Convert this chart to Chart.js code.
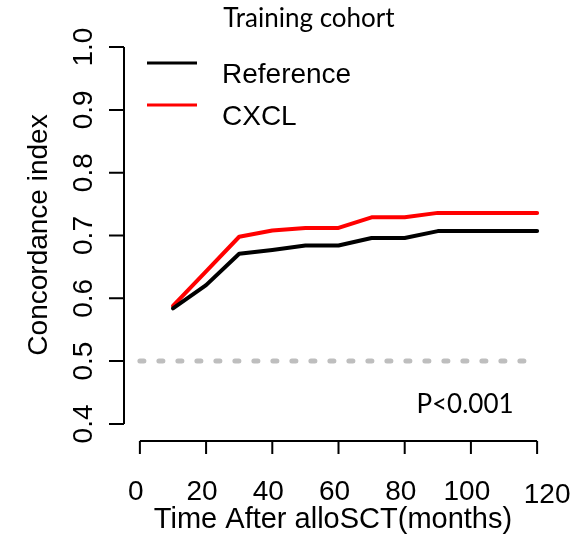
<!DOCTYPE html>
<html>
<head>
<meta charset="utf-8">
<script src="https://cdn.jsdelivr.net/npm/chart.js@4.4.0/dist/chart.umd.min.js"></script>
<style>
  html, body { margin: 0; padding: 0; background: #fff; }
  canvas { display: block; }
</style>
</head>
<body>
<canvas id="chart" width="578" height="542"></canvas>
<script>
// C-index over time after alloSCT, training cohort
const months = [10, 20, 30, 40, 50, 60, 70, 80, 90, 100, 110, 120];
const referenceIdx = [0.584, 0.621, 0.671, 0.677, 0.684, 0.684, 0.696, 0.696, 0.707, 0.707, 0.707, 0.707];
const cxclIdx = [0.588, 0.643, 0.698, 0.708, 0.712, 0.712, 0.729, 0.729, 0.736, 0.736, 0.736, 0.736];
const chanceX = [0, 120];
const chanceY = [0.5, 0.5];
const xTicks = [0, 20, 40, 60, 80, 100, 120];
const yTicks = [0.4, 0.5, 0.6, 0.7, 0.8, 0.9, 1.0];
const chartTitle = 'Training cohort';
const xTitle = 'Time After alloSCT(months)';
const yTitle = 'Concordance index';
const pText = 'P<0.001';

const ARIAL = '"Liberation Sans", Arial, sans-serif';
const CALIBRI = 'Lato, "Open Sans", sans-serif';

function pts(xs, ys) {
  return xs.map((x, i) => ({ x: x, y: ys[i] }));
}

// R style axes, legend and text
const rStyle = {
  id: 'rStyle',
  afterDraw(chart) {
    const ctx = chart.ctx;
    const xs = chart.scales.x, ys = chart.scales.y;
    const area = chart.chartArea;
    ctx.save();
    ctx.strokeStyle = '#000';
    ctx.fillStyle = '#000';
    ctx.lineWidth = 2;

    // y axis
    const ax = area.left;
    ctx.beginPath();
    ctx.moveTo(ax, ys.getPixelForValue(yTicks[0]));
    ctx.lineTo(ax, ys.getPixelForValue(yTicks[yTicks.length - 1]));
    yTicks.forEach(v => {
      const py = ys.getPixelForValue(v);
      ctx.moveTo(ax, py);
      ctx.lineTo(ax - 15, py);
    });
    ctx.stroke();
    ctx.font = '28px ' + ARIAL;
    ctx.textAlign = 'center';
    ctx.textBaseline = 'alphabetic';
    yTicks.forEach(v => {
      ctx.save();
      ctx.translate(92, ys.getPixelForValue(v));
      ctx.rotate(-Math.PI / 2);
      ctx.fillText(v.toFixed(1), 0, 0);
      ctx.restore();
    });

    // x axis
    const ay = 441;
    ctx.beginPath();
    ctx.moveTo(xs.getPixelForValue(xTicks[0]), ay);
    ctx.lineTo(xs.getPixelForValue(xTicks[xTicks.length - 1]), ay);
    xTicks.forEach(v => {
      const px = xs.getPixelForValue(v);
      ctx.moveTo(px, ay);
      ctx.lineTo(px, ay + 13);
    });
    ctx.stroke();
    xTicks.forEach((v, i) => {
      const last = i === xTicks.length - 1;
      const px = xs.getPixelForValue(v) + (last ? 10 : -4);
      ctx.fillText(String(v), px, last ? 503 : 500);
    });

    // axis titles
    ctx.font = '29px ' + ARIAL;
    ctx.fillText(xTitle, 333, 528);
    ctx.save();
    ctx.translate(47, 235);
    ctx.rotate(-Math.PI / 2);
    ctx.font = '28px ' + ARIAL;
    ctx.fillText(yTitle, 0, 0);
    ctx.restore();

    // legend
    const legendRows = [0, 1];
    ctx.textAlign = 'left';
    legendRows.forEach((di, i) => {
      const ds = chart.data.datasets[di];
      const ly = 63 + i * 42;
      ctx.strokeStyle = ds.borderColor;
      ctx.lineWidth = 3;
      ctx.beginPath();
      ctx.moveTo(147, ly);
      ctx.lineTo(197, ly);
      ctx.stroke();
      ctx.font = '28px ' + ARIAL;
      ctx.fillText(ds.label, 222, ly + 20);
    });

    // title and p-value
    ctx.font = '26px ' + CALIBRI;
    ctx.textAlign = 'center';
    ctx.fillText(chartTitle, 309, 27);
    ctx.fillText(pText, 465, 413);
    ctx.restore();
  }
};

new Chart(document.getElementById('chart'), {
  type: 'line',
  data: {
    datasets: [
      {
        label: 'Reference',
        data: pts(months, referenceIdx),
        borderColor: '#000000',
        borderWidth: 4,
        order: 0
      },
      {
        label: 'CXCL',
        data: pts(months, cxclIdx),
        borderColor: '#ff0000',
        borderWidth: 4,
        order: 1
      },
      {
        label: 'chance',
        data: pts(chanceX, chanceY),
        borderColor: '#bebebe',
        borderWidth: 5,
        borderDash: [4, 15],
        borderCapStyle: 'round',
        order: 2
      }
    ]
  },
  options: {
    responsive: false,
    animation: false,
    devicePixelRatio: 1,
    layout: { padding: { left: 124, right: 25, top: 32, bottom: 103 } },
    elements: {
      point: { radius: 0 },
      line: { tension: 0, borderJoinStyle: 'round', borderCapStyle: 'round', fill: false }
    },
    plugins: {
      legend: { display: false },
      tooltip: { enabled: false },
      title: { display: false }
    },
    scales: {
      x: { type: 'linear', min: -4.8, max: 124.8, display: false },
      y: { type: 'linear', min: 0.376, max: 1.024, display: false }
    }
  },
  plugins: [rStyle]
});
</script>
</body>
</html>
